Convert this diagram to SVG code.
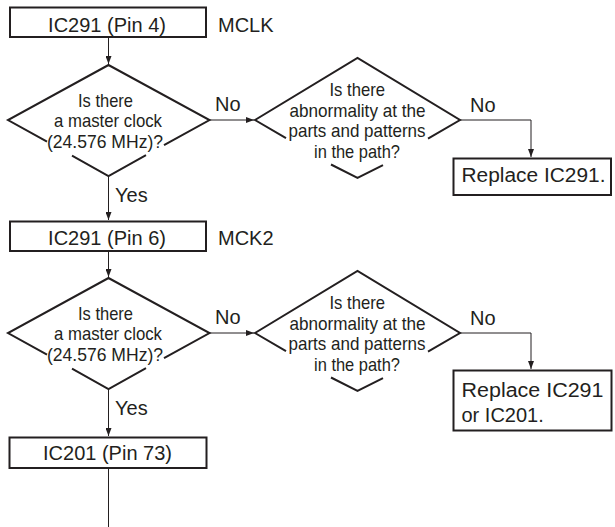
<svg xmlns="http://www.w3.org/2000/svg" width="615" height="527" viewBox="0 0 615 527">
  <style>
    .box { fill: #ffffff; stroke: #231f20; stroke-width: 2; }
    .dia { fill: none; stroke: #231f20; stroke-width: 2; stroke-linejoin: miter; }
    .con { fill: none; stroke: #231f20; stroke-width: 1; }
    text { font-family: "Liberation Sans", Arial, sans-serif; fill: #231f20; }
    .t { font-size: 20px; }
    .tm { font-size: 20px; text-anchor: middle; }
    .d { font-size: 18.5px; }
  </style>
  <defs>
    <marker id="ah" markerWidth="8" markerHeight="6" refX="8" refY="3" orient="auto" markerUnits="userSpaceOnUse">
      <path d="M0,0 L8,3 L0,6 z" fill="#231f20"/>
    </marker>
  </defs>
  <rect width="615" height="527" fill="#ffffff"/>

  <g id="connectors">
    <path class="con" d="M108.5,37 V64" marker-end="url(#ah)"/>
    <path class="con" d="M209.5,120 H254" marker-end="url(#ah)"/>
    <path class="con" d="M460,120 H531 V157" marker-end="url(#ah)"/>
    <path class="con" d="M108.5,176 V220" marker-end="url(#ah)"/>
    <path class="con" d="M108.5,251 V277" marker-end="url(#ah)"/>
    <path class="con" d="M209.5,333 H254" marker-end="url(#ah)"/>
    <path class="con" d="M460,333 H531 V369" marker-end="url(#ah)"/>
    <path class="con" d="M108.5,389 V436" marker-end="url(#ah)"/>
    <path class="con" d="M108.5,468 V527"/>
    <text class="t" x="215" y="111">No</text>
    <text class="t" x="470" y="112">No</text>
    <text class="t" x="115" y="202">Yes</text>
    <text class="t" x="215" y="324">No</text>
    <text class="t" x="470" y="325">No</text>
    <text class="t" x="115" y="415">Yes</text>
  </g>

  <g id="box1">
    <rect class="box" x="10" y="7.5" width="196" height="29.5"/>
    <text class="tm" x="107" y="32">IC291 (Pin 4)</text>
    <text class="t" x="218" y="32">MCLK</text>
  </g>

  <g id="dia1">
    <path class="dia" d="M47,141.7 L8,120 L108.5,65 L209.5,120 L164,145.2"/>
    <path class="dia" d="M72,155.6 L108.5,176 L146,155.2"/>
    <text class="d" x="78" y="106.5" textLength="55" lengthAdjust="spacingAndGlyphs">Is there</text>
    <text class="d" x="54" y="127" textLength="108" lengthAdjust="spacingAndGlyphs">a master clock</text>
    <text class="d" x="47" y="147.5" textLength="116" lengthAdjust="spacingAndGlyphs">(24.576 MHz)?</text>
  </g>

  <g id="dia2">
    <path class="dia" d="M286,138.1 L255,120 L357.5,58 L460,120 L428,138.7"/>
    <path class="dia" d="M331,164.5 L357.5,178 L383,165.1"/>
    <text class="d" x="329.5" y="96" textLength="55.5" lengthAdjust="spacingAndGlyphs">Is there</text>
    <text class="d" x="289.5" y="116.5" textLength="136" lengthAdjust="spacingAndGlyphs">abnormality at the</text>
    <text class="d" x="288.5" y="137" textLength="137" lengthAdjust="spacingAndGlyphs">parts and patterns</text>
    <text class="d" x="314" y="157.5" textLength="86" lengthAdjust="spacingAndGlyphs">in the path?</text>
  </g>

  <g id="end1">
    <rect class="box" x="453.5" y="158.5" width="157.5" height="36.5"/>
    <text class="t" x="461.5" y="182" textLength="144" lengthAdjust="spacingAndGlyphs">Replace IC291.</text>
  </g>

  <g id="box2">
    <rect class="box" x="10" y="221.5" width="196" height="29.5"/>
    <text class="tm" x="107" y="245">IC291 (Pin 6)</text>
    <text class="t" x="218" y="245">MCK2</text>
  </g>

  <g id="dia3">
    <path class="dia" d="M47,354.7 L8,333 L108.5,278 L209.5,333 L164,358.2"/>
    <path class="dia" d="M72,368.6 L108.5,389 L146,368.2"/>
    <text class="d" x="78" y="319.5" textLength="55" lengthAdjust="spacingAndGlyphs">Is there</text>
    <text class="d" x="54" y="340" textLength="108" lengthAdjust="spacingAndGlyphs">a master clock</text>
    <text class="d" x="47" y="360.5" textLength="116" lengthAdjust="spacingAndGlyphs">(24.576 MHz)?</text>
  </g>

  <g id="dia4">
    <path class="dia" d="M286,351.1 L255,333 L357.5,271 L460,333 L428,351.7"/>
    <path class="dia" d="M331,377.5 L357.5,391 L383,378.1"/>
    <text class="d" x="329.5" y="309" textLength="55.5" lengthAdjust="spacingAndGlyphs">Is there</text>
    <text class="d" x="289.5" y="329.5" textLength="136" lengthAdjust="spacingAndGlyphs">abnormality at the</text>
    <text class="d" x="288.5" y="350" textLength="137" lengthAdjust="spacingAndGlyphs">parts and patterns</text>
    <text class="d" x="314" y="370.5" textLength="86" lengthAdjust="spacingAndGlyphs">in the path?</text>
  </g>

  <g id="end2">
    <rect class="box" x="453.5" y="370.5" width="158" height="60"/>
    <text class="t" x="461.5" y="397" textLength="142" lengthAdjust="spacingAndGlyphs">Replace IC291</text>
    <text class="t" x="461.5" y="421.5">or IC201.</text>
  </g>

  <g id="box3">
    <rect class="box" x="9.5" y="437.5" width="197" height="30.5"/>
    <text class="tm" x="107.5" y="459.5">IC201 (Pin 73)</text>
  </g>
</svg>
